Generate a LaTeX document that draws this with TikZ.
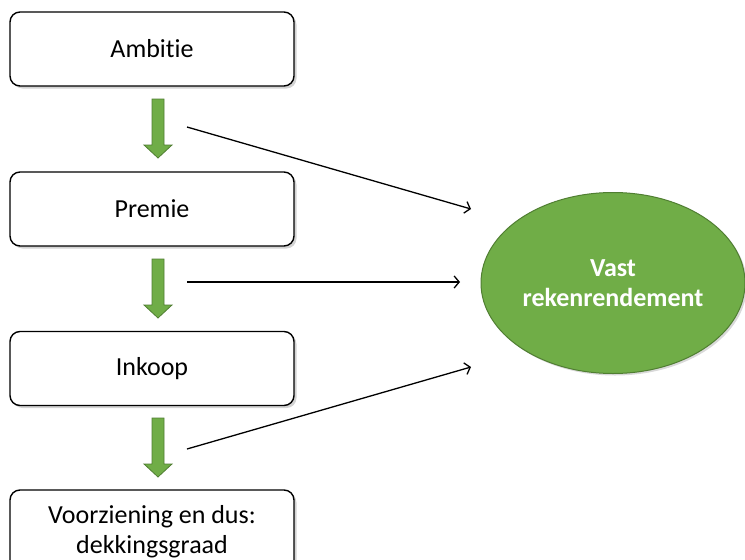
\documentclass[tikz,border=0pt]{standalone}
\usepackage{fontspec}
\setmainfont{Carlito}[Ligatures=NoCommon]
\usetikzlibrary{shapes.geometric,shadows,arrows.meta}
\definecolor{grn}{HTML}{70AD47}
\definecolor{grndark}{HTML}{507E32}
\tikzset{
  x=1pt,y=-1pt,
  stepbox/.style={draw=black,line width=1.4pt,rounded corners=10pt,fill=white,
    minimum width=284pt,minimum height=74pt,inner sep=0pt,align=center,
    font=\fontsize{26}{30}\selectfont,
    drop shadow={opacity=0.35,shadow xshift=2.5pt,shadow yshift=-2.5pt}},
  goal/.style={ellipse,draw=grndark,line width=1pt,fill=grn,minimum width=264pt,minimum height=181pt,
    inner sep=0pt,align=center,text=white,font=\bfseries\fontsize{26}{30}\selectfont,
    drop shadow={opacity=0.3,shadow xshift=2pt,shadow yshift=-2pt}},
  flow/.style={fill=grn,draw=grndark,line width=0.8pt},
  link/.style={draw=black,line width=1.3pt,-{Straight Barb[length=5pt,width=12pt,line width=1.3pt]}}
}
\begin{document}
\begin{tikzpicture}
\useasboundingbox (0,0) rectangle (745,560);
\clip (0,0) rectangle (745,560);
\node[stepbox] (a) at (152,49) {Ambitie};
\node[stepbox] (b) at (152,209) {Premie};
\node[stepbox] (c) at (152,368.5) {Inkoop};
\node[stepbox,minimum height=84pt] (d) at (152,532) {Voorziening en dus:\\dekkingsgraad};
\node[goal] (e) at (613,283) {Vast\\rekenrendement};
% green block arrows
\foreach \t/\nm in {99/g1,259/g2,418/g3}{
  \coordinate (\nm) at (158,\t);
  \draw[flow] (\nm) ++(-6,0) -- ++(12,0) -- ++(0,46) -- ++(8,0) -- ++(-14,13) -- ++(-14,-13) -- ++(8,0) -- cycle;
}
% black arrows
\coordinate (s1) at (187,127);
\coordinate (t1) at (471,209);
\coordinate (s2) at (187,282);
\coordinate (t2) at (460,282);
\coordinate (s3) at (187,449);
\coordinate (t3) at (471,367);
\draw[link] (s1) -- (t1);
\draw[link] (s2) -- (t2);
\draw[link] (s3) -- (t3);
\end{tikzpicture}
\end{document}
